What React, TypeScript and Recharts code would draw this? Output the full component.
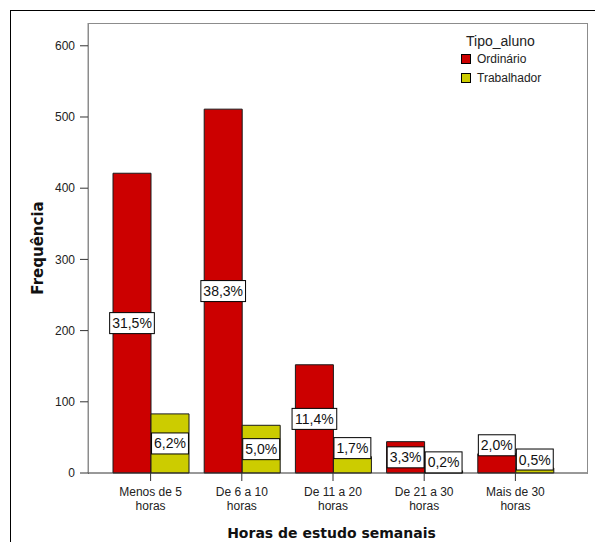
import { BarChart, Bar, XAxis, YAxis, Legend, LabelList, Label } from 'recharts';

// Horas de estudo semanais x Tipo_aluno (frequências)
const categories = ['Menos de 5 horas', 'De 6 a 10 horas', 'De 11 a 20 horas', 'De 21 a 30 horas', 'Mais de 30 horas'];
const ordinario = [421, 511, 152, 44, 27];
const trabalhador = [83, 67, 23, 3, 7];
const ordinarioPct = ['31,5%', '38,3%', '11,4%', '3,3%', '2,0%'];
const trabalhadorPct = ['6,2%', '5,0%', '1,7%', '0,2%', '0,5%'];
const yTicks = [0, 100, 200, 300, 400, 500, 600];

const data = categories.map((c, i) => ({
  cat: c,
  ordinario: ordinario[i],
  trabalhador: trabalhador[i],
  ordPct: ordinarioPct[i],
  trabPct: trabalhadorPct[i],
}));

const SANS = '"Liberation Sans", Arial, sans-serif';
const BOLD = '"DejaVu Sans", Verdana, sans-serif';

// rough Arial widths (em) for the percent boxes
const charW: Record<string, number> = { ',': 0.278, '%': 0.889 };
const textWidth = (s: string, size: number) =>
  s.split('').reduce((w, ch) => w + (charW[ch] ?? 0.556), 0) * size;

const PctBox = (props: any) => {
  const { x, y, width, height, value } = props;
  const fs = 14;
  const bw = textWidth(String(value), fs) + 5;
  const bh = 21;
  const cx = x + width / 2;
  // short bars: box sits on top of the bar instead of the middle
  const cy = height < bh + 1 ? y + 2 - bh / 2 : y + height / 2;
  return (
    <g>
      <rect x={cx - bw / 2} y={cy - bh / 2} width={bw} height={bh} fill="#fff" stroke="#000" strokeWidth={1} />
      <text x={cx} y={cy + 5} textAnchor="middle" fontSize={fs} fontFamily={SANS} fill="#111">
        {value}
      </text>
    </g>
  );
};

const XTick = (props: any) => {
  const { x, y, payload } = props;
  const words = String(payload.value).split(' ');
  const last = words.pop();
  return (
    <text x={x} y={y} textAnchor="middle" fontSize={12} fontFamily={SANS} fill="#222">
      <tspan x={x} dy={13}>{words.join(' ')}</tspan>
      <tspan x={x} dy={14}>{last}</tspan>
    </text>
  );
};

const LegendBox = (props: any) => {
  const items = props.payload || [];
  return (
    <div style={{ fontFamily: SANS, color: '#222' }}>
      <div style={{ fontSize: 14, lineHeight: '16px', paddingLeft: 5 }}>Tipo_aluno</div>
      {items.map((it: any) => (
        <div key={it.value} style={{ display: 'flex', alignItems: 'center', height: 19 }}>
          <span style={{ width: 8, height: 8, background: it.color, border: '1px solid #000', display: 'inline-block' }} />
          <span style={{ fontSize: 12, marginLeft: 6 }}>{it.value}</span>
        </div>
      ))}
    </div>
  );
};

export default function App() {
  return (
    <div style={{ position: 'absolute', left: 0, top: 0, width: 595, height: 542, overflow: 'hidden', background: '#fff' }}>
      {/* outer frame (only top/left visible) */}
      <div style={{ position: 'absolute', left: 10, top: 10, width: 700, height: 700, borderTop: '1px solid #000', borderLeft: '1px solid #000' }} />
      {/* plot frame */}
      <div style={{ position: 'absolute', left: 88, top: 23, width: 498, height: 450, border: '1px solid #8c8c8c', borderBottom: 'none' }} />
      <div style={{ position: 'absolute', left: 0, top: 0 }}>
        <BarChart
          width={595}
          height={542}
          data={data}
          margin={{ top: 23, right: 8, left: 28, bottom: 0 }}
          barGap={0}
          barSize={38}
        >
          <XAxis
            dataKey="cat"
            height={69}
            padding={{ left: 17, right: 26 }}
            stroke="#333"
            tickSize={8}
            tickMargin={2}
            tick={<XTick />}
            interval={0}
          >
            <Label
              value="Horas de estudo semanais"
              position="insideBottom"
              offset={4}
              dx={-6}
              style={{ fontFamily: BOLD, fontWeight: 'bold', fontSize: 14, fill: '#111' }}
            />
          </XAxis>
          <YAxis
            width={60}
            domain={[0, 632]}
            ticks={yTicks}
            axisLine={{ stroke: '#8c8c8c' }}
            tickLine={{ stroke: '#333' }}
            tickSize={8}
            tickMargin={5}
            tick={{ fontSize: 12, fontFamily: SANS, fill: '#222' }}
          >
            <Label
              content={(p: any) => {
                const vb = p.viewBox;
                const cx = vb.x + 10;
                const cy = vb.y + vb.height / 2;
                return (
                  <text
                    x={cx}
                    y={cy}
                    transform={`rotate(-90 ${cx} ${cy})`}
                    textAnchor="middle"
                    dominantBaseline="central"
                    fontFamily={BOLD}
                    fontWeight="bold"
                    fontSize={15}
                    fill="#111"
                  >
                    Frequência
                  </text>
                );
              }}
            />
          </YAxis>
          <Legend
            layout="horizontal"
            verticalAlign="middle"
            align="center"
            content={<LegendBox />}
            wrapperStyle={{ position: 'absolute', left: 461, top: 33, width: 110 }}
          />
          <Bar dataKey="ordinario" name="Ordinário" fill="#cc0000" stroke="#1a1a1a" strokeWidth={1} isAnimationActive={false}>
            <LabelList dataKey="ordPct" content={<PctBox />} />
          </Bar>
          <Bar dataKey="trabalhador" name="Trabalhador" fill="#cccc00" stroke="#1a1a1a" strokeWidth={1} isAnimationActive={false}>
            <LabelList dataKey="trabPct" content={<PctBox />} />
          </Bar>
        </BarChart>
      </div>
    </div>
  );
}
